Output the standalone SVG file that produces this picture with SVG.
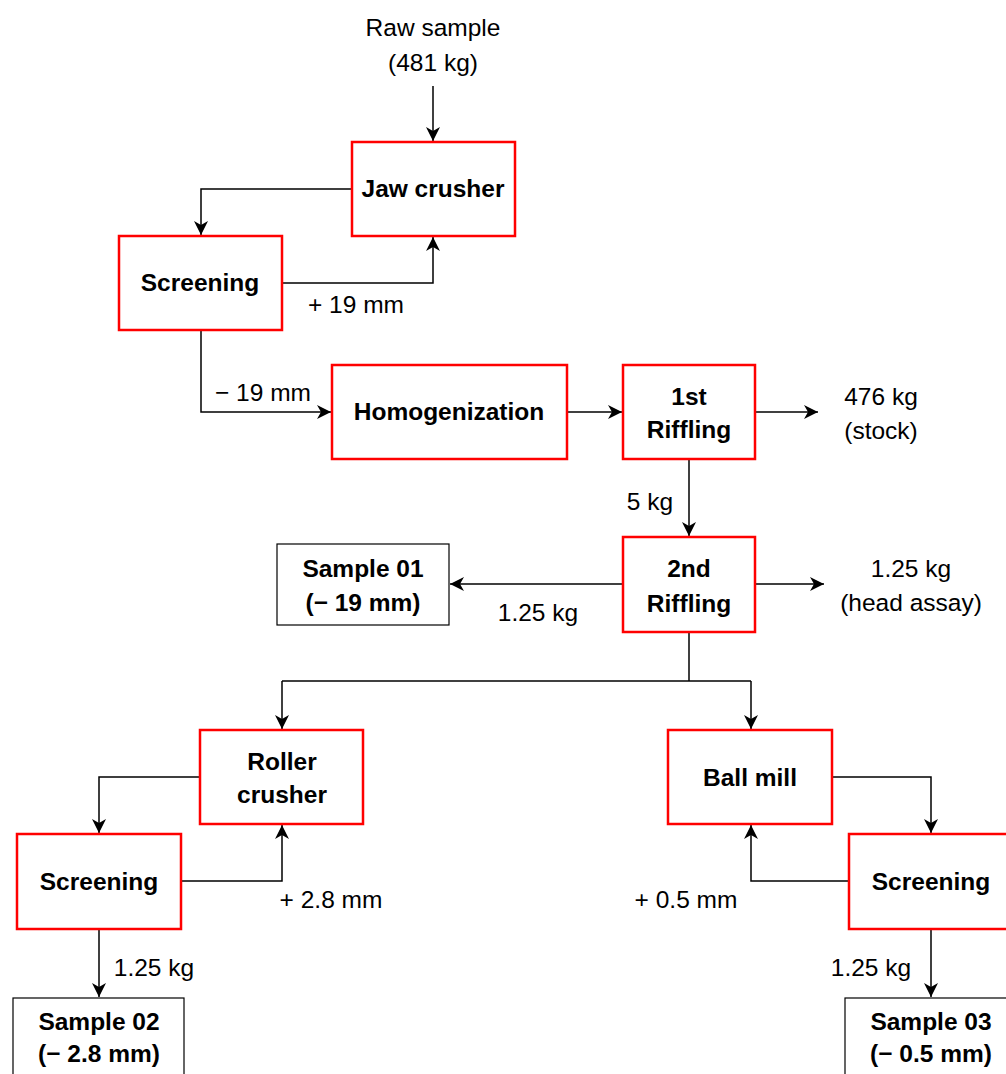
<svg xmlns="http://www.w3.org/2000/svg" width="1006" height="1074" viewBox="0 0 1006 1074">
<style>
.red{fill:#fff;stroke:#ff0000;stroke-width:2.5}
.blk{fill:#fff;stroke:#000;stroke-width:1.2}
.b{font-family:"Liberation Sans",Arial,sans-serif;font-weight:bold;font-size:24.5px;fill:#000;text-anchor:middle}
.t{font-family:"Liberation Sans",Arial,sans-serif;font-size:24.5px;fill:#000;text-anchor:middle}
.c{fill:none;stroke:#000;stroke-width:1.5}
</style>
<defs>
<marker id="ar" markerUnits="userSpaceOnUse" markerWidth="15" markerHeight="14" refX="14" refY="7" orient="auto">
<path d="M0,0 L14,7 L0,14 L4,7 z" fill="#000"/>
</marker>
</defs>
<rect width="1006" height="1074" fill="#fff"/>
<g id="connectors">
<path class="c" d="M433,86 V141" marker-end="url(#ar)"/>
<path class="c" d="M352,189 H201 V235" marker-end="url(#ar)"/>
<path class="c" d="M282,283 H433 V237" marker-end="url(#ar)"/>
<path class="c" d="M201,330 V412 H331" marker-end="url(#ar)"/>
<path class="c" d="M567,412 H622" marker-end="url(#ar)"/>
<path class="c" d="M755,412 H818" marker-end="url(#ar)"/>
<path class="c" d="M689,459 V536" marker-end="url(#ar)"/>
<path class="c" d="M623,584 H450" marker-end="url(#ar)"/>
<path class="c" d="M755,584 H824" marker-end="url(#ar)"/>
<path class="c" d="M689,632 V681"/>
<path class="c" d="M282,681 H751"/>
<path class="c" d="M282,681 V729" marker-end="url(#ar)"/>
<path class="c" d="M751,681 V729" marker-end="url(#ar)"/>
<path class="c" d="M200,777 H99 V833" marker-end="url(#ar)"/>
<path class="c" d="M181,881 H282 V825" marker-end="url(#ar)"/>
<path class="c" d="M832,777 H931 V833" marker-end="url(#ar)"/>
<path class="c" d="M849,881 H751 V825" marker-end="url(#ar)"/>
<path class="c" d="M99,929 V997" marker-end="url(#ar)"/>
<path class="c" d="M931,929 V997" marker-end="url(#ar)"/>
</g>
<g id="labels">
<text class="t" x="433" y="36">Raw sample</text>
<text class="t" x="433" y="71">(481 kg)</text>
<text class="t" x="356" y="313">+ 19 mm</text>
<text class="t" x="263" y="401">− 19 mm</text>
<text class="t" x="881" y="405">476 kg</text>
<text class="t" x="881" y="439">(stock)</text>
<text class="t" x="650" y="510">5 kg</text>
<text class="t" x="538" y="621">1.25 kg</text>
<text class="t" x="911" y="577">1.25 kg</text>
<text class="t" x="911" y="611">(head assay)</text>
<text class="t" x="331" y="908">+ 2.8 mm</text>
<text class="t" x="686" y="908">+ 0.5 mm</text>
<text class="t" x="154" y="976">1.25 kg</text>
<text class="t" x="871" y="976">1.25 kg</text>
</g>
<g id="jaw-crusher"><rect class="red" x="352" y="142" width="163" height="94"/><text class="b" x="433" y="197">Jaw crusher</text></g>
<g id="screening-1"><rect class="red" x="119" y="236" width="163" height="94"/><text class="b" x="200" y="291">Screening</text></g>
<g id="homogenization"><rect class="red" x="332" y="365" width="235" height="94"/><text class="b" x="449" y="420">Homogenization</text></g>
<g id="riffling-1"><rect class="red" x="623" y="365" width="132" height="94"/><text class="b" x="689" y="405">1st</text><text class="b" x="689" y="438">Riffling</text></g>
<g id="riffling-2"><rect class="red" x="623" y="537" width="132" height="95"/><text class="b" x="689" y="577">2nd</text><text class="b" x="689" y="612">Riffling</text></g>
<g id="sample-01"><rect class="blk" x="277" y="544" width="172" height="81"/><text class="b" x="363" y="577">Sample 01</text><text class="b" x="363" y="611">(− 19 mm)</text></g>
<g id="roller-crusher"><rect class="red" x="200" y="730" width="163" height="94"/><text class="b" x="282" y="770">Roller</text><text class="b" x="282" y="803">crusher</text></g>
<g id="ball-mill"><rect class="red" x="668" y="730" width="164" height="94"/><text class="b" x="750" y="786">Ball mill</text></g>
<g id="screening-2"><rect class="red" x="17" y="834" width="164" height="95"/><text class="b" x="99" y="890">Screening</text></g>
<g id="screening-3"><rect class="red" x="849" y="834" width="164" height="95"/><text class="b" x="931" y="890">Screening</text></g>
<g id="sample-02"><rect class="blk" x="13" y="998" width="171" height="82"/><text class="b" x="99" y="1030">Sample 02</text><text class="b" x="99" y="1062">(− 2.8 mm)</text></g>
<g id="sample-03"><rect class="blk" x="845" y="998" width="171" height="82"/><text class="b" x="931" y="1030">Sample 03</text><text class="b" x="931" y="1062">(− 0.5 mm)</text></g>
</svg>
